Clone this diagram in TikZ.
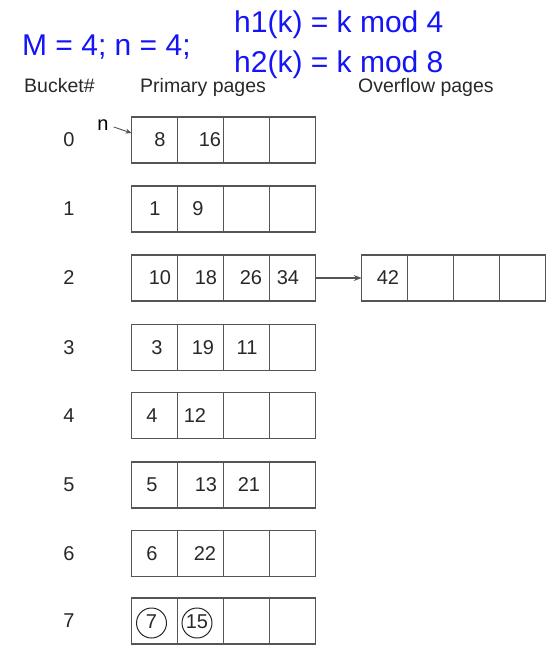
\documentclass[tikz,border=0pt]{standalone}
\usepackage{fontspec}
\setmainfont{Liberation Sans}
\usetikzlibrary{arrows.meta}
\definecolor{hblue}{RGB}{20,20,245}
\definecolor{lgray}{RGB}{85,85,85}
\definecolor{tgray}{RGB}{40,40,40}
\begin{document}
\begin{tikzpicture}[x=1pt,y=-1pt,
  cell/.style={draw=lgray,line width=1.3pt,minimum width=46pt,minimum height=46pt,inner sep=0pt,outer sep=0pt},
  num/.style={font=\fontsize{20}{20}\selectfont,text=tgray,inner sep=0pt},
  head/.style={font=\fontsize{19.5}{19.5}\selectfont,text=tgray,inner sep=0pt,anchor=base west},
  big/.style={font=\fontsize{30}{30}\selectfont,text=hblue,inner sep=0pt,anchor=base west},
  ring/.style={draw=tgray,line width=1pt,circle,minimum size=30pt,inner sep=0pt},
  link/.style={draw=lgray,line width=1.1pt,-{Stealth[length=8pt,width=6pt,inset=3pt]}}]
\useasboundingbox (0,0) rectangle (551,646);
\node[big] (mn) at (22,55) {M = 4; n = 4;};
\node[big] (h1) at (234,32) {h1(k) = k mod 4};
\node[big] (h2) at (234,72) {h2(k) = k mod 8};
\node[head] (hb) at (24,92) {Bucket\#};
\node[head] (hp) at (140,92) {Primary pages};
\node[head] (ho) at (358,92) {Overflow pages};
\foreach \r/\yy in {0/140,1/209,2/278,3/347.5,4/415.5,5/485,6/553.5,7/621}{
  \node[num] (r\r) at (69,\yy) {\r};
  \foreach \k in {0,...,3}
    \node[cell] (c\r\k) at ({154.5+46*\k},\yy) {};
}
\foreach \k in {0,...,3}
  \node[cell] (o\k) at ({384.7+46*\k},278) {};
% contents
\node[num] (v8) at (160,140) {8};
\node[num] (v16) at (210,140) {16};
\node[num] (v1) at (155,209) {1};
\node[num] (v9) at (198,209) {9};
\node[num] (v10) at (160,278) {10};
\node[num] (v18) at (206,278) {18};
\node[num] (v26) at (251,278) {26};
\node[num] (v34) at (288,278) {34};
\node[num] (v42) at (388,278) {42};
\node[num] (v3) at (157,347.5) {3};
\node[num] (v19) at (203,347.5) {19};
\node[num] (v11) at (247,347.5) {11};
\node[num] (v4) at (152,415.5) {4};
\node[num] (v12) at (195,415.5) {12};
\node[num] (v5) at (152,485) {5};
\node[num] (v13) at (206,485) {13};
\node[num] (v21) at (249,485) {21};
\node[num] (v6) at (152,553.5) {6};
\node[num] (v22) at (205,553.5) {22};
\node[num] (v7) at (151.5,622) {7};
\node[num] (v15) at (197,622) {15};
\node[ring] (k7) at (151.5,623) {};
\node[ring] (k15) at (197,623) {};
% pointer n
\node[font=\fontsize{20}{20}\selectfont,inner sep=0pt] (nl) at (103,125) {n};
\draw[draw=lgray,line width=0.9pt,-{Stealth[length=6pt,width=5pt,inset=2pt]}] ([xshift=5pt,yshift=-2pt]nl.east) -- ([yshift=7pt]c00.west);
\draw[link] (c23.east) -- (o0.west);
\end{tikzpicture}
\end{document}
